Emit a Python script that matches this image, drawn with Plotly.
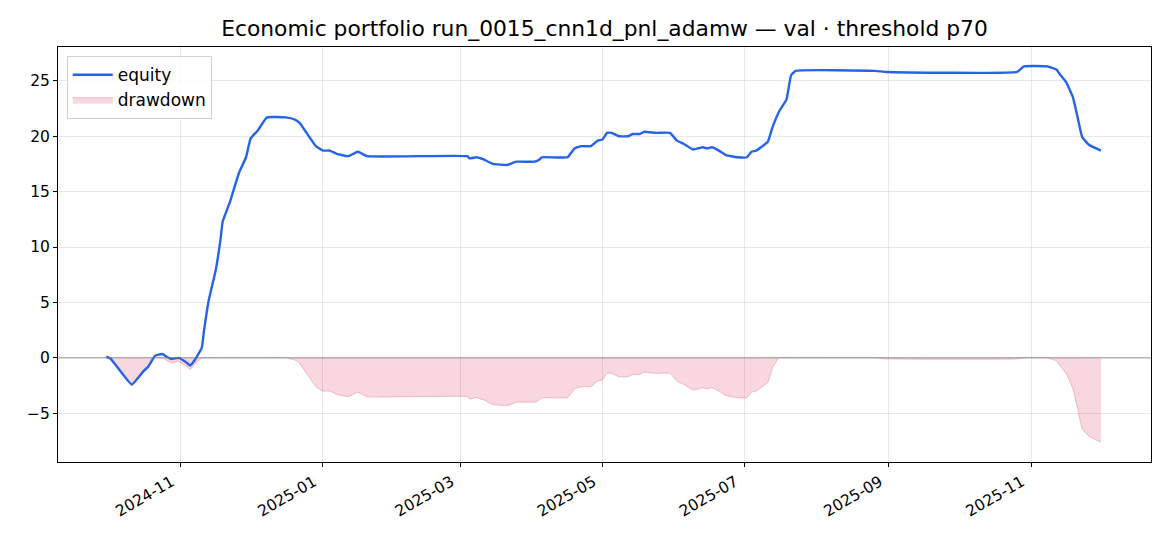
import plotly.graph_objects as go

dates = [
    "2024-09-30", "2024-10-02", "2024-10-11", "2024-10-16", "2024-10-18", "2024-10-21",
    "2024-10-24", "2024-10-26", "2024-10-28", "2024-10-31", "2024-11-03", "2024-11-05",
    "2024-11-07", "2024-11-10", "2024-11-11", "2024-11-13", "2024-11-16", "2024-11-18",
    "2024-11-19", "2024-11-22", "2024-11-26", "2024-11-29", "2024-12-01", "2024-12-04",
    "2024-12-08", "2024-12-16", "2024-12-20", "2024-12-22", "2024-12-25", "2024-12-29",
    "2025-01-01", "2025-01-04", "2025-01-07", "2025-01-12", "2025-01-16", "2025-01-20",
    "2025-03-04", "2025-03-05", "2025-03-08", "2025-03-11", "2025-03-15", "2025-03-21",
    "2025-03-25", "2025-04-02", "2025-04-04", "2025-04-05", "2025-04-16", "2025-04-19",
    "2025-04-22", "2025-04-26", "2025-04-29", "2025-05-01", "2025-05-03", "2025-05-05",
    "2025-05-08", "2025-05-12", "2025-05-14", "2025-05-17", "2025-05-19", "2025-05-24",
    "2025-05-30", "2025-06-02", "2025-06-05", "2025-06-09", "2025-06-13", "2025-06-15",
    "2025-06-17", "2025-06-20", "2025-06-23", "2025-06-28", "2025-07-02", "2025-07-04",
    "2025-07-06", "2025-07-11", "2025-07-13", "2025-07-16", "2025-07-19", "2025-07-21",
    "2025-07-23", "2025-08-26", "2025-08-31", "2025-10-26", "2025-10-29", "2025-11-08",
    "2025-11-12", "2025-11-13", "2025-11-16", "2025-11-19", "2025-11-21", "2025-11-23",
    "2025-11-26", "2025-12-01",
]

equity = [
    0.1, -0.1, -2.4, -1.2, -0.8, 0.2,
    0.35, 0.1, -0.1, 0.0, -0.35, -0.7,
    -0.2, 0.9, 2.5, 5.2, 7.9, 10.6,
    12.3, 14.0, 16.7, 18.1, 19.8, 20.5,
    21.7, 21.7, 21.5, 21.2, 20.3, 19.1,
    18.7, 18.7, 18.4, 18.2, 18.6, 18.2,
    18.2, 18.0, 18.1, 17.9, 17.5, 17.4,
    17.7, 17.7, 17.9, 18.1, 18.1, 18.9,
    19.1, 19.1, 19.6, 19.7, 20.3, 20.3,
    20.0, 20.0, 20.2, 20.2, 20.4, 20.3,
    20.3, 19.6, 19.3, 18.8, 19.0, 18.9,
    19.0, 18.7, 18.3, 18.1, 18.1, 18.6,
    18.7, 19.5, 20.8, 22.3, 23.3, 25.5,
    25.9, 25.9, 25.8, 25.8, 26.3, 26.3,
    26.0, 25.7, 24.9, 23.5, 21.7, 19.9,
    19.2, 18.7,
]

drawdown = [
    0.0, -0.2, -2.5, -1.3, -0.9, 0.0,
    0.0, -0.25, -0.45, -0.35, -0.7, -1.05,
    -0.55, 0.0, 0.0, 0.0, 0.0, 0.0,
    0.0, 0.0, 0.0, 0.0, 0.0, 0.0,
    0.0, 0.0, -0.2, -0.5, -1.4, -2.6,
    -3.0, -3.0, -3.3, -3.5, -3.1, -3.5,
    -3.5, -3.7, -3.6, -3.8, -4.2, -4.3,
    -4.0, -4.0, -3.8, -3.6, -3.6, -2.8,
    -2.6, -2.6, -2.1, -2.0, -1.4, -1.4,
    -1.7, -1.7, -1.5, -1.5, -1.3, -1.4,
    -1.4, -2.1, -2.4, -2.9, -2.7, -2.8,
    -2.7, -3.0, -3.4, -3.6, -3.6, -3.1,
    -3.0, -2.2, -0.9, 0.0, 0.0, 0.0,
    0.0, 0.0, -0.1, -0.1, 0.0, 0.0,
    -0.3, -0.6, -1.4, -2.8, -4.6, -6.4,
    -7.1, -7.6,
]

x_ticks = ["2024-11-01", "2025-01-01", "2025-03-01", "2025-05-01",
           "2025-07-01", "2025-09-01", "2025-11-01"]
x_tick_labels = ["2024-11", "2025-01", "2025-03", "2025-05",
                 "2025-07", "2025-09", "2025-11"]
y_ticks = [-5, 0, 5, 10, 15, 20, 25]

title_text = "Economic portfolio run_0015_cnn1d_pnl_adamw — val · threshold p70"

fig = go.Figure()

fig.add_trace(go.Scatter(
    x=dates, y=drawdown, name="drawdown", mode="lines",
    fill="tozeroy", fillcolor="rgba(220,20,60,0.17)",
    line=dict(color="rgba(230,80,110,0.35)", width=1, shape="spline", smoothing=0.35),
))
fig.add_trace(go.Scatter(
    x=dates, y=equity, name="equity", mode="lines",
    line=dict(color="#2563eb", width=2.4, shape="spline", smoothing=0.35),
))

fig.add_shape(type="line", xref="paper", x0=0, x1=1, yref="y", y0=0, y1=0,
              line=dict(color="rgba(120,120,130,0.75)", width=1), layer="above")

axis_common = dict(
    showline=True, linecolor="black", linewidth=1, mirror=True,
    ticks="outside", ticklen=4, tickcolor="black", tickwidth=1,
    showgrid=True, gridcolor="rgba(0,0,0,0.09)", gridwidth=1,
    zeroline=False, tickfont=dict(family="DejaVu Sans", size=15.5, color="black"),
    automargin=False,
)

fig.update_layout(
    width=1170, height=546,
    margin=dict(l=58, r=19, t=47, b=84),
    paper_bgcolor="white", plot_bgcolor="white",
    font=dict(family="DejaVu Sans", color="black"),
    title=dict(text=title_text, x=(58 + (1170 - 19)) / 2 / 1170, xanchor="center",
               y=1 - 28 / 546, yanchor="middle",
               font=dict(family="DejaVu Sans", size=21.8, color="black")),
    xaxis=dict(type="date", range=["2024-09-09 07:00", "2025-12-22 12:00"],
               tickvals=x_ticks, ticktext=x_tick_labels, tickangle=-30,
               ticklabelshift=-9, **axis_common),
    yaxis=dict(range=[-9.4, 28.05], tickvals=y_ticks, **axis_common),
    legend=dict(x=0.008, y=0.978, xanchor="left", yanchor="top",
                bgcolor="rgba(255,255,255,0.85)", bordercolor="#d0d0d0", borderwidth=1,
                font=dict(family="DejaVu Sans", size=17, color="black"),
                itemwidth=40, traceorder="reversed"),
    showlegend=True,
)

fig.write_html("out.html", post_script="document.body.style.margin='0';",
               config={"displayModeBar": False})
